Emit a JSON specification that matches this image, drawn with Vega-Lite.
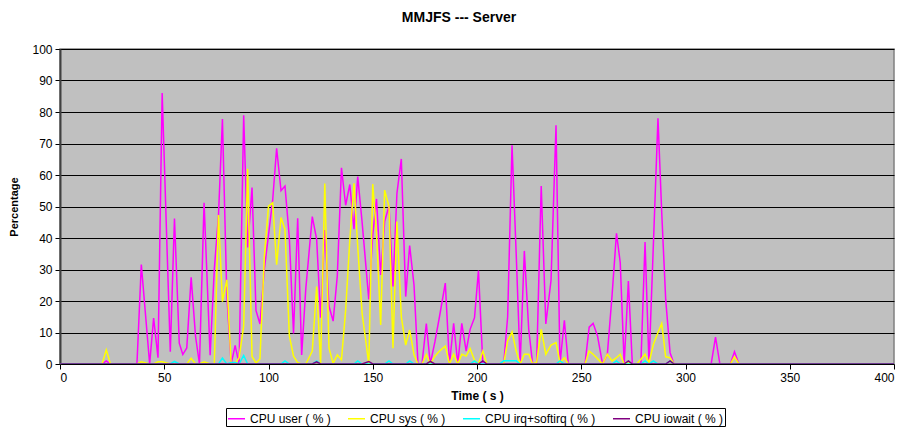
{
  "$schema": "https://vega.github.io/schema/vega-lite/v6.json",
  "width": 834,
  "height": 315,
  "autosize": {"type": "none"},
  "padding": {"left": 60, "top": 49, "right": 4, "bottom": 63},
  "background": "white",
  "title": {"text": "MMJFS --- Server", "font": "Liberation Sans", "fontSize": 14, "fontWeight": "bold", "color": "black", "anchor": "middle", "dx": -18, "offset": 18},
  "config": {
    "view": {"fill": "#C0C0C0", "stroke": "#808080", "strokeWidth": 1.5},
    "font": "Liberation Sans"
  },
  "data": {"values": [
    {"t":0,"user":0,"sys":0,"irq":0,"iowait":0},
    {"t":10,"user":0,"sys":0,"irq":0,"iowait":0},
    {"t":18.2,"user":0,"sys":0,"irq":0,"iowait":0},
    {"t":20.2,"user":0,"sys":0,"irq":0,"iowait":0},
    {"t":22.2,"user":1,"sys":4.5,"irq":0,"iowait":0},
    {"t":24.2,"user":0,"sys":0,"irq":0,"iowait":0},
    {"t":30,"user":0,"sys":0,"irq":0,"iowait":0},
    {"t":36.9,"user":0,"sys":0,"irq":0,"iowait":0},
    {"t":39,"user":31.6,"sys":0.7,"irq":0,"iowait":0},
    {"t":43,"user":0,"sys":0,"irq":0,"iowait":0},
    {"t":44.9,"user":14.6,"sys":0,"irq":0,"iowait":0},
    {"t":47,"user":2,"sys":0.7,"irq":0,"iowait":0},
    {"t":49,"user":86,"sys":0.7,"irq":0,"iowait":0},
    {"t":52.9,"user":3.9,"sys":0,"irq":0,"iowait":0},
    {"t":54.9,"user":46.2,"sys":0,"irq":0.8,"iowait":0},
    {"t":57.2,"user":6.6,"sys":0,"irq":0,"iowait":0},
    {"t":58.9,"user":3,"sys":0,"irq":0,"iowait":0},
    {"t":60.8,"user":5.1,"sys":0,"irq":0,"iowait":0},
    {"t":62.9,"user":27.5,"sys":1.8,"irq":0,"iowait":0},
    {"t":65,"user":8.8,"sys":0,"irq":0,"iowait":0},
    {"t":66.9,"user":0,"sys":0,"irq":0,"iowait":0},
    {"t":69.1,"user":51.2,"sys":0.7,"irq":0,"iowait":0},
    {"t":72,"user":2.8,"sys":0,"irq":0,"iowait":0},
    {"t":74,"user":30,"sys":0,"irq":0,"iowait":0},
    {"t":76,"user":47,"sys":47.3,"irq":0,"iowait":0},
    {"t":77.9,"user":77.8,"sys":19.8,"irq":1.9,"iowait":0},
    {"t":80,"user":22,"sys":26.7,"irq":0,"iowait":0},
    {"t":82.1,"user":0,"sys":0,"irq":0.5,"iowait":0},
    {"t":84,"user":5.9,"sys":0,"irq":0.5,"iowait":0},
    {"t":85.9,"user":0,"sys":2,"irq":0,"iowait":0},
    {"t":88.1,"user":79,"sys":12,"irq":2.7,"iowait":0},
    {"t":90,"user":37,"sys":62,"irq":0,"iowait":0},
    {"t":92.1,"user":56,"sys":2.4,"irq":0,"iowait":0},
    {"t":94,"user":17,"sys":0.3,"irq":0,"iowait":0},
    {"t":95.9,"user":12.7,"sys":1.6,"irq":0,"iowait":0},
    {"t":98,"user":30,"sys":34,"irq":0,"iowait":0},
    {"t":100,"user":41,"sys":50.1,"irq":0,"iowait":0},
    {"t":102,"user":52,"sys":51.2,"irq":0,"iowait":0},
    {"t":103.9,"user":68.5,"sys":31.5,"irq":0,"iowait":0},
    {"t":106,"user":55,"sys":46.5,"irq":0,"iowait":0},
    {"t":107.9,"user":56.5,"sys":42.8,"irq":1,"iowait":0},
    {"t":110,"user":40,"sys":8.9,"irq":0,"iowait":0},
    {"t":112,"user":9.7,"sys":2.5,"irq":0,"iowait":0},
    {"t":114,"user":46.3,"sys":0.4,"irq":0,"iowait":0},
    {"t":115.9,"user":2.9,"sys":0,"irq":0,"iowait":0},
    {"t":117.9,"user":24,"sys":0,"irq":0,"iowait":0},
    {"t":121,"user":46.8,"sys":4.1,"irq":0,"iowait":0},
    {"t":123.1,"user":39.6,"sys":24.6,"irq":1,"iowait":0.7},
    {"t":125,"user":14.7,"sys":0,"irq":0,"iowait":0},
    {"t":127,"user":42.5,"sys":57.3,"irq":0,"iowait":0},
    {"t":129,"user":18.4,"sys":5.1,"irq":0,"iowait":0},
    {"t":131,"user":13.6,"sys":0.2,"irq":0,"iowait":0},
    {"t":133,"user":28,"sys":2.9,"irq":0,"iowait":0},
    {"t":135,"user":62.3,"sys":1.3,"irq":0,"iowait":0},
    {"t":137,"user":50.4,"sys":17.1,"irq":0,"iowait":0},
    {"t":139,"user":57,"sys":39.4,"irq":0,"iowait":0},
    {"t":141,"user":42.8,"sys":57.4,"irq":0,"iowait":0},
    {"t":142.8,"user":59.5,"sys":37.2,"irq":1,"iowait":0},
    {"t":144.9,"user":45,"sys":16.1,"irq":0,"iowait":0},
    {"t":148.1,"user":20.5,"sys":0,"irq":0,"iowait":0.8},
    {"t":150,"user":41,"sys":57.1,"irq":0,"iowait":0},
    {"t":151.8,"user":52.4,"sys":41.5,"irq":0,"iowait":0},
    {"t":153.8,"user":28.3,"sys":12.4,"irq":0,"iowait":0},
    {"t":155.7,"user":45.2,"sys":55.2,"irq":0,"iowait":0},
    {"t":157.8,"user":50.2,"sys":50,"irq":1,"iowait":0},
    {"t":159.7,"user":24.6,"sys":5,"irq":0,"iowait":0},
    {"t":161.6,"user":54.2,"sys":45.2,"irq":0,"iowait":0},
    {"t":163.7,"user":65.1,"sys":15,"irq":0,"iowait":0},
    {"t":165.8,"user":21.4,"sys":6,"irq":0,"iowait":0},
    {"t":167.7,"user":37.6,"sys":10.8,"irq":1,"iowait":0},
    {"t":169.8,"user":25,"sys":2.9,"irq":0,"iowait":0},
    {"t":171.7,"user":0,"sys":0,"irq":0,"iowait":0},
    {"t":173.6,"user":0,"sys":0,"irq":0,"iowait":0},
    {"t":175.7,"user":12.8,"sys":3,"irq":0,"iowait":0},
    {"t":177.6,"user":0,"sys":0,"irq":0,"iowait":0.8},
    {"t":179.8,"user":7,"sys":2.5,"irq":0,"iowait":0},
    {"t":182,"user":15,"sys":4.1,"irq":0,"iowait":0},
    {"t":184.8,"user":25.7,"sys":5.7,"irq":0,"iowait":0},
    {"t":186.8,"user":0,"sys":0,"irq":0,"iowait":0},
    {"t":188.8,"user":12.9,"sys":3.1,"irq":0,"iowait":0},
    {"t":190.8,"user":0,"sys":0,"irq":0,"iowait":0},
    {"t":192.7,"user":12.9,"sys":3.1,"irq":0,"iowait":0},
    {"t":194.8,"user":4.1,"sys":2.5,"irq":0,"iowait":0},
    {"t":196.7,"user":11,"sys":4.9,"irq":0,"iowait":0},
    {"t":198.8,"user":14.7,"sys":1.2,"irq":1,"iowait":0},
    {"t":200.7,"user":29.7,"sys":0,"irq":0,"iowait":0},
    {"t":202.8,"user":0,"sys":4.1,"irq":0,"iowait":1},
    {"t":204.7,"user":0,"sys":0,"irq":0,"iowait":0},
    {"t":210.8,"user":0,"sys":0,"irq":0,"iowait":0},
    {"t":212.8,"user":0,"sys":0,"irq":1,"iowait":0},
    {"t":214.7,"user":15,"sys":7.3,"irq":1,"iowait":0},
    {"t":216.8,"user":69.4,"sys":10.2,"irq":1,"iowait":0},
    {"t":218.8,"user":35,"sys":4.1,"irq":1,"iowait":0},
    {"t":220.7,"user":0,"sys":0,"irq":0,"iowait":0},
    {"t":222.7,"user":35.9,"sys":3.1,"irq":0,"iowait":0},
    {"t":224.8,"user":11,"sys":3.1,"irq":0,"iowait":0},
    {"t":226.7,"user":0,"sys":0,"irq":0,"iowait":0},
    {"t":228.6,"user":0,"sys":0.5,"irq":0,"iowait":0},
    {"t":230.8,"user":56.5,"sys":11,"irq":0,"iowait":0},
    {"t":233,"user":12.7,"sys":3.1,"irq":0,"iowait":0},
    {"t":235.5,"user":26.5,"sys":6,"irq":0,"iowait":0},
    {"t":237.9,"user":75.8,"sys":6.8,"irq":0,"iowait":0},
    {"t":239.8,"user":0,"sys":0.4,"irq":1,"iowait":0},
    {"t":241.9,"user":13.9,"sys":2,"irq":0,"iowait":0},
    {"t":243.8,"user":0,"sys":0,"irq":0,"iowait":0},
    {"t":251.8,"user":0,"sys":0,"irq":0,"iowait":0},
    {"t":253.8,"user":11.7,"sys":4.1,"irq":0,"iowait":0},
    {"t":255.7,"user":12.9,"sys":3.1,"irq":0,"iowait":0},
    {"t":257.8,"user":8.9,"sys":1.7,"irq":0,"iowait":0},
    {"t":260.2,"user":0,"sys":0,"irq":0,"iowait":0},
    {"t":262.5,"user":3,"sys":3.1,"irq":0,"iowait":0},
    {"t":264.8,"user":22,"sys":1,"irq":0,"iowait":0},
    {"t":266.9,"user":41.5,"sys":2,"irq":1,"iowait":0},
    {"t":268.7,"user":32.2,"sys":3.1,"irq":0,"iowait":0},
    {"t":270.6,"user":0,"sys":0,"irq":0,"iowait":0},
    {"t":272.6,"user":26.3,"sys":0.4,"irq":0,"iowait":1},
    {"t":274.5,"user":0,"sys":0,"irq":0,"iowait":0},
    {"t":276.6,"user":0,"sys":0,"irq":0,"iowait":0},
    {"t":278.6,"user":0,"sys":1.5,"irq":0,"iowait":0},
    {"t":280.6,"user":38.7,"sys":3.1,"irq":1,"iowait":0},
    {"t":282.5,"user":0,"sys":0.4,"irq":0,"iowait":0},
    {"t":284.6,"user":38,"sys":6.2,"irq":1,"iowait":0},
    {"t":286.8,"user":78,"sys":10,"irq":0,"iowait":0},
    {"t":288.6,"user":48,"sys":12.9,"irq":0,"iowait":0},
    {"t":290.5,"user":20.5,"sys":2.3,"irq":0,"iowait":0},
    {"t":292.6,"user":3.6,"sys":2,"irq":1,"iowait":1},
    {"t":294.5,"user":0,"sys":0,"irq":0,"iowait":0},
    {"t":300,"user":0,"sys":0,"irq":0,"iowait":0},
    {"t":312.3,"user":0,"sys":0,"irq":0,"iowait":0},
    {"t":314.4,"user":8.5,"sys":0,"irq":0,"iowait":0},
    {"t":316.5,"user":0,"sys":0,"irq":0,"iowait":0},
    {"t":321.5,"user":0,"sys":0,"irq":0,"iowait":0},
    {"t":323.5,"user":3.9,"sys":2.3,"irq":0,"iowait":0},
    {"t":325.6,"user":0,"sys":0,"irq":0,"iowait":0},
    {"t":340,"user":0,"sys":0,"irq":0,"iowait":0},
    {"t":360,"user":0,"sys":0,"irq":0,"iowait":0},
    {"t":380,"user":0,"sys":0,"irq":0,"iowait":0},
    {"t":400,"user":0,"sys":0,"irq":0,"iowait":0}
  ]},
  "transform": [{"fold": ["user", "sys", "irq", "iowait"], "as": ["series", "value"]}],
  "mark": {"type": "line", "strokeWidth": 1.5, "clip": true},
  "encoding": {
    "x": {
      "field": "t", "type": "quantitative",
      "scale": {"domain": [0, 400], "nice": false, "zero": false},
      "axis": {
        "title": "Time ( s )", "values": [0, 50, 100, 150, 200, 250, 300, 350, 400],
        "grid": false, "domain": false, "tickColor": "#000000", "tickSize": 5, "tickWidth": 1,
        "labelFont": "Liberation Sans", "labelFontSize": 12, "labelColor": "#000000", "labelPadding": 3,
        "titleFont": "Liberation Sans", "titleFontSize": 12, "titleFontWeight": "bold", "titleColor": "#000000", "titlePadding": 7
      }
    },
    "y": {
      "field": "value", "type": "quantitative",
      "scale": {"domain": [0, 100], "nice": false},
      "axis": {
        "title": "Percentage", "values": [0, 10, 20, 30, 40, 50, 60, 70, 80, 90, 100],
        "grid": true, "gridColor": "#000000", "gridWidth": 1, "gridOpacity": 1,
        "domain": true, "domainColor": "#404040", "domainWidth": 2,
        "tickColor": "#000000", "tickSize": 5, "tickWidth": 1,
        "labelFont": "Liberation Sans", "labelFontSize": 12, "labelColor": "#000000", "labelPadding": 3,
        "titleFont": "Liberation Sans", "titleFontSize": 11, "titleFontWeight": "bold", "titleColor": "#000000", "titlePadding": 12
      }
    },
    "color": {
      "field": "series", "type": "nominal",
      "scale": {"domain": ["user", "sys", "irq", "iowait"], "range": ["#FF00FF", "#FFFF00", "#00FFFF", "#800080"]},
      "legend": {
        "title": null, "orient": "none", "legendX": 166, "legendY": 359, "direction": "horizontal", "columns": 4,
        "labelExpr": "{'user': 'CPU user ( % )', 'sys': 'CPU sys ( % )', 'irq': 'CPU irq+softirq ( % )', 'iowait': 'CPU iowait ( % )'}[datum.label]",
        "symbolType": "stroke", "symbolSize": 289, "symbolStrokeWidth": 1.5,
        "labelFont": "Liberation Sans", "labelFontSize": 12, "labelColor": "#000000", "labelOffset": 4,
        "columnPadding": 14, "padding": 1, "strokeColor": "#000000",
        "labelLimit": 300
      }
    }
  }
}
